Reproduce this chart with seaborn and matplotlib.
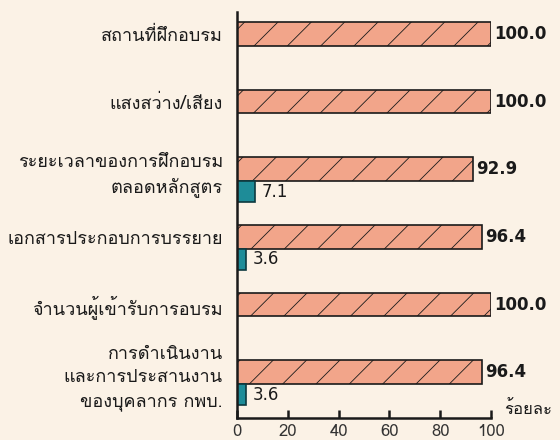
import matplotlib
matplotlib.use("Agg")
import matplotlib.pyplot as plt
from matplotlib import font_manager as fm
import seaborn as sns
import pandas as pd
import numpy as np

categories = [
    "สถานที่ฝึกอบรม",
    "แสงสว่าง/เสียง",
    "ระยะเวลาของการฝึกอบรม\nตลอดหลักสูตร",
    "เอกสารประกอบการบรรยาย",
    "จำนวนผู้เข้ารับการอบรม",
    "การดำเนินงาน\nและการประสานงาน\nของบุคลากร กพบ.",
]
satisfied = [100.0, 100.0, 92.9, 96.4, 100.0, 96.4]
unsatisfied = [0.0, 0.0, 7.1, 3.6, 0.0, 3.6]
series_names = ["พอใจ", "ไม่พอใจ"]
x_ticks = [0, 20, 40, 60, 80, 100]
x_unit = "ร้อยละ"

# find a font with Thai glyphs
thai_fonts = []
try:
    from fontTools.ttLib import TTFont
    for f in fm.fontManager.ttflist:
        try:
            tt = TTFont(f.fname, fontNumber=0, lazy=True)
            cm = tt.getBestCmap()
            if cm and 0x0E01 in cm and 0x0E49 in cm and 0x0E33 in cm:
                if f.name not in thai_fonts:
                    thai_fonts.append(f.name)
        except Exception:
            pass
except Exception:
    pass

def pref(n):
    order = ["Tahoma", "Loma", "Garuda", "Noto Sans Thai", "Noto Sans Thai UI", "Sarabun", "Kinnari", "Norasi"]
    return order.index(n) if n in order else len(order)
thai_fonts.sort(key=pref)

sns.set_theme(style="white")
families = thai_fonts + ["DejaVu Sans"]
plt.rcParams["font.family"] = families
plt.rcParams["hatch.linewidth"] = 0.6

bg = "#FBF2E6"
orange = "#F2A58A"
teal = "#1E8C98"

df = pd.DataFrame({
    "category": categories * 2,
    "series": [series_names[0]] * len(categories) + [series_names[1]] * len(categories),
    "value": satisfied + unsatisfied,
})

fig = plt.figure(figsize=(5.6, 4.4), dpi=100, facecolor=bg)
ax = fig.add_axes([0.423, 0.05, 0.454, 0.923])
ax.set_facecolor(bg)

sns.barplot(data=df, y="category", x="value", hue="series", orient="h",
            palette=[orange, teal], width=0.7, legend=False, ax=ax,
            saturation=1, linewidth=1.2, edgecolor="#1a1a1a")

ax.set_xlim(0, 100)
ax.set_ylim(5.5, -0.5)

c_sat, c_uns = ax.containers[0], ax.containers[1]
for p in c_sat.patches:
    p.set_hatch("/")
for p in c_uns.patches:
    p.set_edgecolor("#0c3a40")
    h = p.get_height()
    p.set_height(h * 0.88)

for p, v in zip(c_sat.patches, satisfied):
    ax.text(v + 1.2, p.get_y() + p.get_height() / 2, f"{v:.1f}",
            va="center", ha="left", fontsize=12, fontweight="bold",
            color="#1a1a1a", family=["DejaVu Sans"])
for p, v in zip(c_uns.patches, unsatisfied):
    if v > 0:
        ax.text(v + 2.5, p.get_y() + p.get_height() / 2, f"{v:.1f}",
                va="center", ha="left", fontsize=12,
                color="#1a1a1a", family=["DejaVu Sans"])

ypos = [p.get_y() + p.get_height() / 2 for p in c_sat.patches]
ax.set_yticks(ypos)
ax.set_yticklabels(categories, fontsize=13, color="#1a1a1a",
                   linespacing=1.4, fontweight="medium")
ax.tick_params(axis="y", left=False, length=0, pad=10)

ax.set_xticks(x_ticks)
ax.set_xticklabels([str(t) for t in x_ticks], fontsize=12, color="#333333")
ax.tick_params(axis="x", bottom=True, direction="in", length=6, width=1.8,
               color="#1a1a1a", pad=4)
ax.set_xlabel("")
ax.set_ylabel("")

for s in ["top", "right"]:
    ax.spines[s].set_visible(False)
for s in ["left", "bottom"]:
    ax.spines[s].set_color("#1a1a1a")
    ax.spines[s].set_linewidth(1.8)

ax.text(1.05, 0.02, x_unit, transform=ax.transAxes, ha="left", va="center",
        fontsize=12, color="#1a1a1a")

fig.savefig("out.png", dpi=100, facecolor=bg)
